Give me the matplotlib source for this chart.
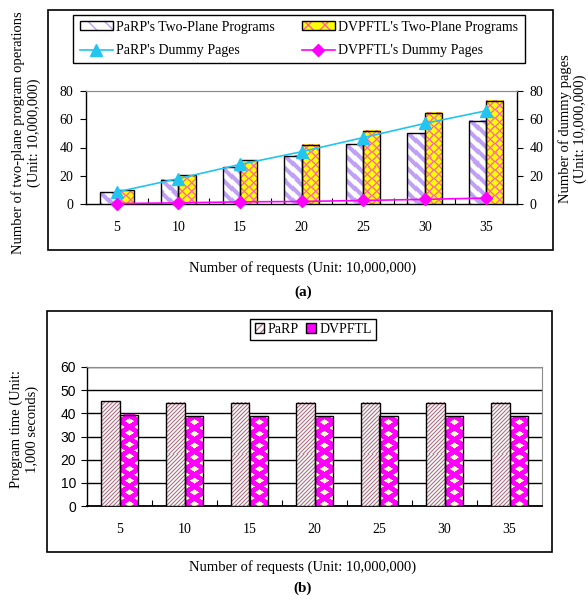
import numpy as np
import matplotlib
matplotlib.use('Agg')
import matplotlib.pyplot as plt
from matplotlib.patches import Rectangle, Patch

# === Data ===
requests = ['5', '10', '15', '20', '25', '30', '35']

# (a) two-plane program operations (left axis) and dummy pages (right axis), unit 10,000,000
parp_two_plane = [8.2, 17, 26, 34, 42.4, 50, 59]
dvpftl_two_plane = [9.9, 20.2, 30.8, 42, 52, 64.7, 73]
parp_dummy = [8.5, 18, 28, 37, 47, 57, 66]
dvpftl_dummy = [0.3, 0.8, 1.5, 1.8, 2.5, 3.3, 4.2]

# (b) program time, unit 1,000 seconds
parp_time = [45.2, 44.6, 44.6, 44.6, 44.6, 44.6, 44.6]
dvpftl_time = [39.4, 38.8, 38.8, 38.8, 38.8, 38.8, 38.8]

W, H, DPI = 588, 605, 100
plt.rcParams['font.family'] = ['Liberation Serif', 'DejaVu Serif']
plt.rcParams['hatch.linewidth'] = 1.0

PURPLE = '#BFA0F5'
PINK = '#FF5FA8'
YELLOW = '#FFFF00'
MAUVE = '#B07888'
MAGENTA = '#FF00FF'
CREAM = '#FFFFCC'
CYAN = '#22C4F0'
GRAY = '#8C8C8C'


def px_box(l, t, r, b):
    return [l / W, 1 - b / H, (r - l) / W, (b - t) / H]


def rgb(c):
    return np.array(matplotlib.colors.to_rgb(c))


def diag_lines(u, period, width):
    # coverage of diagonal lines repeating every `period` px along u
    d = np.abs(((u + period / 2) % period) - period / 2) / np.sqrt(2)
    return np.clip(width / 2 + 0.5 - d, 0, 1)


def blend(bg, fg, a):
    return rgb(bg) * (1 - a[..., None]) + rgb(fg) * a[..., None]


def pat_parp_a(x, y, w, h):
    return blend('white', PURPLE, diag_lines(x + y, 12.0, 4.0))


def pat_dvpftl_a(x, y, w, h):
    a = np.maximum(diag_lines(x + y, 8.5, 1.3), diag_lines(x - y, 8.5, 1.3))
    return blend(YELLOW, PINK, a)


def pat_parp_b(x, y, w, h):
    return blend('white', MAUVE, diag_lines(x - y, 4.0, 1.1))


def pat_dvpftl_b(x, y, w, h):
    # cream diamonds on a magenta ground
    px, py = 18.7, 11.7
    fx = (x - w / 2) / px
    fy = (y - 2) / py
    d1 = 2 * np.abs(fx - np.round(fx)) + 2 * np.abs(fy - np.round(fy))
    gx, gy = fx + 0.5, fy + 0.5
    d2 = 2 * np.abs(gx - np.round(gx)) + 2 * np.abs(gy - np.round(gy))
    d = np.minimum(d1, d2)
    a = np.clip((0.5 - d) * 9 + 0.5, 0, 1)
    return blend(MAGENTA, CREAM, a)


def fill_texture(ax, bars, pattern):
    for bar in bars:
        bb = bar.get_window_extent()
        w = max(int(round(bb.width)), 1)
        h = max(int(round(bb.height)), 1)
        yy, xx = np.mgrid[0:h, 0:w] + 0.5
        img = pattern(xx, h - yy, w, h)
        x0, y0 = bar.get_x(), bar.get_y()
        ax.imshow(img, extent=(x0, x0 + bar.get_width(), y0, y0 + bar.get_height()),
                  origin='upper', aspect='auto', interpolation='nearest',
                  zorder=bar.get_zorder() - 0.1, clip_path=bar)


def hatch_handle(face, hcolor, hatch, hlw):
    p = Patch(facecolor=face, edgecolor=hcolor, hatch=hatch, linewidth=0)
    if hasattr(p, 'set_hatch_linewidth'):
        p.set_hatch_linewidth(hlw)
    return (p, Patch(facecolor='none', edgecolor='black', linewidth=1))


fig = plt.figure(figsize=(W / DPI, H / DPI), dpi=DPI)
x = np.arange(len(requests))

# ================= panel (a) =================
ax = fig.add_axes(px_box(86, 91, 517, 204))
ax2 = ax.twinx()
ax.set_xlim(-0.5, 6.5)
ax.set_ylim(0, 80)
ax2.set_ylim(0, 80)

bw = 0.28
bars1 = ax.bar(x - bw / 2, parp_two_plane, bw, facecolor='none', edgecolor='black', linewidth=1, zorder=3)
bars2 = ax.bar(x + bw / 2, dvpftl_two_plane, bw, facecolor='none', edgecolor='black', linewidth=1, zorder=3)
ln1, = ax2.plot(x, parp_dummy, color=CYAN, lw=1.2, marker='^', ms=8, clip_on=False, zorder=4)
ln2, = ax2.plot(x, dvpftl_dummy, color=MAGENTA, lw=1.2, marker='D', ms=6, clip_on=False, zorder=4)
fill_texture(ax, bars1, pat_parp_a)
fill_texture(ax, bars2, pat_dvpftl_a)
ax.set_xlim(-0.5, 6.5)
ax.set_ylim(0, 80)

ax.set_xticks(x)
ax.set_xticklabels(requests)
ax.set_xticks(np.arange(0.5, 6.5, 1), minor=True)
ax.tick_params(axis='x', which='major', length=0, pad=12, labelsize=10)
ax.tick_params(axis='x', which='minor', direction='in', length=4, width=0.8)
ax.set_yticks(range(0, 81, 20))
ax.tick_params(axis='y', direction='out', length=4, width=0.8, pad=5, labelsize=10)
ax2.set_yticks(range(0, 81, 20))
ax2.tick_params(axis='y', direction='out', length=4, width=0.8, pad=5, labelsize=10)
ax.spines['top'].set_color(GRAY)
ax2.spines['top'].set_color(GRAY)
ax.spines['right'].set_visible(False)
ax2.spines['left'].set_visible(False)
ax2.spines['bottom'].set_visible(False)
for s in ['left', 'bottom']:
    ax.spines[s].set_linewidth(1)
ax2.spines['right'].set_linewidth(1)

leg_a = fig.legend(
    [hatch_handle('white', PURPLE, '\\\\', 3), ln1, hatch_handle(YELLOW, PINK, 'xx', 1.2), ln2],
    ["PaRP's Two-Plane Programs", "PaRP's Dummy Pages",
     "DVPFTL's Two-Plane Programs", "DVPFTL's Dummy Pages"],
    loc='center', bbox_to_anchor=(299 / W, 1 - 39 / H), ncol=2, fontsize=10,
    frameon=True, fancybox=False, framealpha=1, edgecolor='black',
    handlelength=2.4, handleheight=0.6, handletextpad=0.25, columnspacing=1.9,
    labelspacing=0.75, borderpad=0.45)
leg_a.get_frame().set_linewidth(1)

fig.text(26 / W, 1 - 133 / H, 'Number of two-plane program operations\n(Unit: 10,000,000)',
         rotation=90, ha='center', va='center', multialignment='center', fontsize=10.5, linespacing=1.25)
fig.text(573 / W, 1 - 129 / H, 'Number of dummy pages\n(Unit: 10,000,000)',
         rotation=90, ha='center', va='center', multialignment='center', fontsize=10.5, linespacing=1.15)
fig.text(303 / W, 1 - 268 / H, 'Number of requests (Unit: 10,000,000)', ha='center', va='center', fontsize=10.5)
fig.text(303 / W, 1 - 292 / H, '(a)', ha='center', va='center', fontsize=11, fontweight='bold')
fig.add_artist(Rectangle((48 / W, 1 - 250 / H), 505 / W, 240 / H, transform=fig.transFigure,
                         fill=False, edgecolor='black', linewidth=1.2))

# ================= panel (b) =================
bx = fig.add_axes(px_box(87, 367, 542, 506))
bx.set_xlim(-0.5, 6.5)
bx.set_ylim(0, 60)
bw = 0.29
bars3 = bx.bar(x - bw / 2, parp_time, bw, facecolor='none', edgecolor='black', linewidth=1, zorder=3)
bars4 = bx.bar(x + bw / 2, dvpftl_time, bw, facecolor='none', edgecolor='black', linewidth=1, zorder=3)
fill_texture(bx, bars3, pat_parp_b)
fill_texture(bx, bars4, pat_dvpftl_b)
bx.set_xlim(-0.5, 6.5)
bx.set_ylim(0, 60)

bx.set_yticks(range(0, 61, 10))
bx.yaxis.grid(True, color='black', linewidth=1)
bx.set_axisbelow(True)
bx.set_xticks(x)
bx.set_xticklabels(requests)
bx.set_xticks(np.arange(0.5, 6.5, 1), minor=True)
bx.tick_params(axis='x', which='major', length=0, pad=12, labelsize=10)
bx.tick_params(axis='x', which='minor', direction='in', length=4, width=0.8)
bx.tick_params(axis='y', direction='out', length=4, width=0.8, pad=4, labelsize=10)
for lab in bx.get_yticklabels():
    lab.set_family(['Liberation Sans', 'DejaVu Sans'])
bx.spines['top'].set_color(GRAY)
bx.spines['right'].set_color(GRAY)
bx.spines['left'].set_linewidth(1)
bx.spines['bottom'].set_linewidth(1.3)

leg_b = fig.legend(
    [hatch_handle('white', MAUVE, '/////', 1), Patch(facecolor=MAGENTA, edgecolor='black', linewidth=1)],
    ['PaRP', 'DVPFTL'],
    loc='center', bbox_to_anchor=(313 / W, 1 - 329.5 / H), ncol=2, fontsize=10,
    frameon=True, fancybox=False, framealpha=1, edgecolor='black',
    handlelength=0.7, handleheight=0.7, handletextpad=0.25, columnspacing=0.5, borderpad=0.3)
leg_b.get_frame().set_linewidth(1)

fig.text(24 / W, 1 - 429 / H, 'Program time (Unit:\n1,000 seconds)',
         rotation=90, ha='center', va='center', multialignment='center', fontsize=10.5, linespacing=1.25)
fig.text(303 / W, 1 - 567 / H, 'Number of requests (Unit: 10,000,000)', ha='center', va='center', fontsize=10.5)
fig.text(303 / W, 1 - 588 / H, '(b)', ha='center', va='center', fontsize=11, fontweight='bold')
fig.add_artist(Rectangle((47 / W, 1 - 552 / H), 505 / W, 241 / H, transform=fig.transFigure,
                         fill=False, edgecolor='black', linewidth=1.2))

plt.savefig('out.png', dpi=DPI)
plt.close()
